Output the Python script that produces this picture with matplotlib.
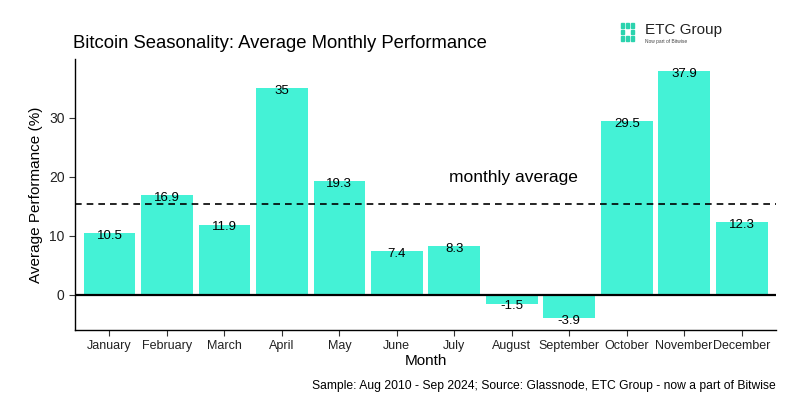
import matplotlib
matplotlib.use("Agg")
import matplotlib.pyplot as plt
from matplotlib.patches import Rectangle

plt.rcParams['font.family'] = ['Liberation Sans', 'DejaVu Sans']

months = ["January", "February", "March", "April", "May", "June", "July",
          "August", "September", "October", "November", "December"]
values = [10.5, 16.9, 11.9, 35, 19.3, 7.4, 8.3, -1.5, -3.9, 29.5, 37.9, 12.3]
value_labels = ["10.5", "16.9", "11.9", "35", "19.3", "7.4", "8.3",
                "-1.5", "-3.9", "29.5", "37.9", "12.3"]
monthly_average = sum(values) / len(values)
yticks = [0, 10, 20, 30]

bar_color = "#44F2D6"

fig = plt.figure(figsize=(8.11, 4.18), dpi=100)
ax = fig.add_axes([0.0925, 0.2105, 0.8645, 0.6485])

x = list(range(1, len(months) + 1))
ax.bar(x, values, width=0.9, color=bar_color, zorder=2)
ax.axhline(0, color="black", lw=1.6, zorder=3)
ax.axhline(monthly_average, color="black", lw=1.2, ls=(0, (4, 3)), zorder=3)
ax.text(8.03, 19.9, "monthly average", ha="center", va="center", fontsize=12.5)

for xi, v, lab in zip(x, values, value_labels):
    ax.text(xi, v - 0.5, lab, ha="center", va="center", fontsize=9.5, zorder=4)

ax.set_xlim(0.4, 12.6)
ax.set_ylim(-5.99, 39.99)
ax.set_xticks(x)
ax.set_xticklabels(months, fontsize=9)
ax.set_yticks(yticks)
ax.set_yticklabels([str(t) for t in yticks], fontsize=10)
ax.tick_params(axis="both", colors="#333333", length=4, labelcolor="#222222")
for s in ["top", "right"]:
    ax.spines[s].set_visible(False)
for s in ["left", "bottom"]:
    ax.spines[s].set_color("black")
    ax.spines[s].set_linewidth(1.0)
ax.set_xlabel("Month", fontsize=11, labelpad=1)
ax.set_ylabel("Average Performance (%)", fontsize=11, labelpad=4)

fig.text(0.09, 0.897, "Bitcoin Seasonality: Average Monthly Performance",
         fontsize=13.3, ha="left", va="center")
fig.text(0.956, 0.077,
         "Sample: Aug 2010 - Sep 2024; Source: Glassnode, ETC Group - now a part of Bitwise",
         fontsize=8.7, ha="right", va="center")

# logo
logo_color = "#2bd3ae"
squares = [(0, 0), (0, 1), (0, 2), (1, 0), (1, 2), (2, 0), (2, 1), (2, 2)]
for (lx, ly) in squares:
    px = 621 + lx * 5
    py = 23 + ly * 6.5
    fig.patches.append(Rectangle((px / 811, 1 - (py + 4.5) / 418), 3.2 / 811, 4.5 / 418,
                                 transform=fig.transFigure, color=logo_color))
fig.text(645 / 811, 1 - 30 / 418, "ETC Group", fontsize=11, ha="left", va="center",
         color="#222222")
fig.text(645 / 811, 1 - 41 / 418, "Now part of Bitwise", fontsize=3.5, ha="left",
         va="center", color="#444444")

fig.savefig("out.png", dpi=100)
